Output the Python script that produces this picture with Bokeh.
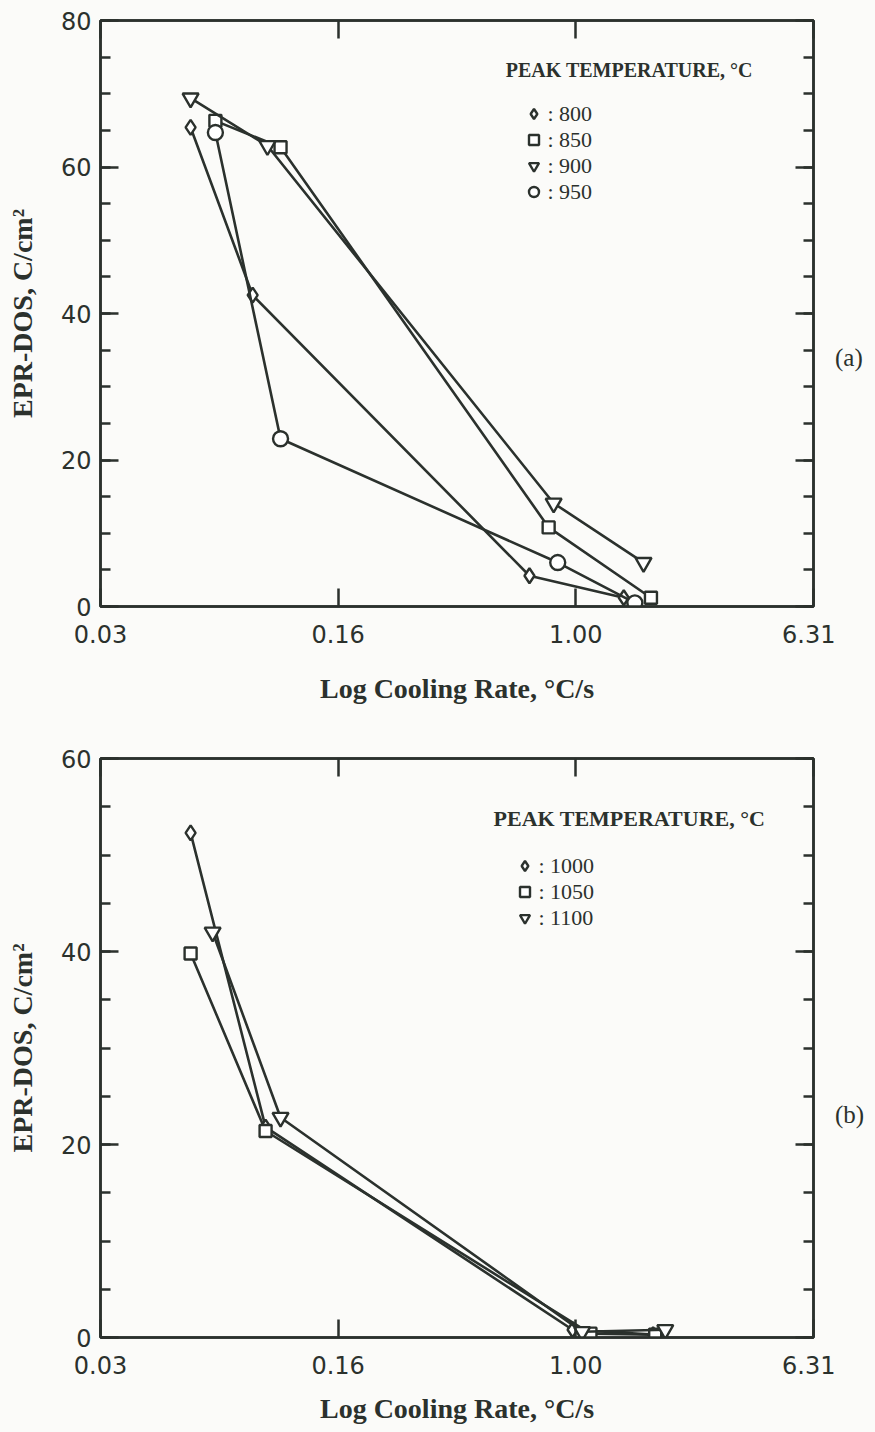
from bokeh.plotting import figure
from bokeh.models import (FixedTicker, LinearAxis, LogAxis, Label, Legend,
                          LegendItem, Range1d, Div)
from bokeh.layouts import column, row
from bokeh.embed import file_html
from bokeh.resources import INLINE

# ---------------- data ----------------
x_ticks = [10 ** -1.6, 10 ** -0.8, 1.0, 10 ** 0.8]
x_tick_labels = ["0.03", "0.16", "1.00", "6.31"]

# panel (a)
rate_800 = [0.0505, 0.0817, 0.698, 1.45]
dos_800 = [65.4, 42.5, 4.2, 1.2]
rate_850 = [0.0612, 0.1014, 0.810, 1.79]
dos_850 = [66.3, 62.7, 10.8, 1.2]
rate_900 = [0.0505, 0.0916, 0.842, 1.69]
dos_900 = [69.4, 62.9, 14.1, 6.0]
rate_950 = [0.0612, 0.1014, 0.869, 1.58]
dos_950 = [64.7, 22.9, 6.0, 0.5]

# panel (b)
rate_1000 = [0.0505, 0.0903, 0.975, 1.82]
dos_1000 = [52.3, 21.8, 0.8, 0.3]
rate_1050 = [0.0505, 0.0903, 1.12, 1.85]
dos_1050 = [39.8, 21.4, 0.4, 0.3]
rate_1100 = [0.0599, 0.1014, 1.05, 2.0]
dos_1100 = [42.0, 22.8, 0.6, 0.8]

y_ticks_a = [0, 20, 40, 60, 80]
y_ticks_b = [0, 20, 40, 60]

legend_title = "PEAK TEMPERATURE, °C"
x_label = "Log Cooling Rate, °C/s"
y_label = "EPR-DOS, C/cm²"

INK = "#2b312d"
PAPER = "#fbfbf9"
SERIF = "Liberation Serif"
SANS = "DejaVu Sans"


def style_axis(ax, labels=True):
    ax.axis_line_color = INK
    ax.axis_line_width = 2.5
    ax.major_tick_line_color = INK
    ax.major_tick_line_width = 2.5
    ax.minor_tick_line_color = INK
    ax.minor_tick_line_width = 2.5
    ax.major_tick_out = 0
    ax.minor_tick_out = 0
    ax.major_tick_in = 18
    ax.minor_tick_in = 10
    ax.major_label_text_font = SANS
    if labels:
        ax.major_label_text_font_size = "24px"
        ax.major_label_text_color = INK
    else:
        ax.major_label_text_font_size = "1px"
        ax.major_label_text_color = None
        ax.major_label_standoff = 0
    ax.axis_label_text_font = SERIF
    ax.axis_label_text_font_style = "bold"
    ax.axis_label_text_font_size = "28px"
    ax.axis_label_text_color = INK


def make_panel(series, ymax, yticks, height, top, bottom, names, legend_loc,
               title_pos, title_size, xlab_standoff):
    p = figure(width=835, height=height, x_axis_type="log",
               x_range=Range1d(x_ticks[0], x_ticks[-1]),
               y_range=Range1d(0, ymax),
               output_backend="svg", toolbar_location=None,
               min_border_left=100, min_border_right=22,
               min_border_top=top, min_border_bottom=bottom)
    p.grid.visible = False
    p.background_fill_color = PAPER
    p.border_fill_color = PAPER
    p.outline_line_color = INK
    p.outline_line_width = 2.5

    xt = FixedTicker(ticks=x_ticks, minor_ticks=[])
    yt = FixedTicker(ticks=yticks, minor_ticks=list(range(0, ymax + 1, 5)))

    xa = p.xaxis[0]
    xa.ticker = xt
    xa.major_label_overrides = dict(zip(x_ticks, x_tick_labels))
    style_axis(xa)
    xa.major_label_standoff = 18
    xa.axis_label = x_label
    xa.axis_label_standoff = xlab_standoff

    ya = p.yaxis[0]
    ya.ticker = yt
    style_axis(ya)
    ya.major_label_standoff = 9
    ya.axis_label = y_label
    ya.axis_label_standoff = 20

    top_ax = LogAxis(ticker=xt)
    style_axis(top_ax, labels=False)
    p.add_layout(top_ax, "above")
    right_ax = LinearAxis(ticker=yt)
    style_axis(right_ax, labels=False)
    p.add_layout(right_ax, "right")

    markers = ["diamond", "square", "inverted_triangle", "circle"]
    sizes = [15, 12, 16, 15]
    items = []
    for (xs, ys), mk, sz, nm in zip(series, markers, sizes, names):
        p.line(xs, ys, line_color=INK, line_width=2.6)
        r = p.scatter(xs, ys, marker=mk, size=sz, line_color=INK,
                      line_width=2.4, fill_color="white")
        items.append(LegendItem(label=": " + nm, renderers=[r]))

    leg = Legend(items=items, location=legend_loc, glyph_width=25,
                 glyph_height=25, label_height=25,
                 spacing=0, padding=0, margin=0, label_standoff=2,
                 border_line_color=None, background_fill_alpha=0,
                 label_text_font=SERIF, label_text_font_size="22px",
                 label_text_color=INK)
    p.add_layout(leg)

    p.add_layout(Label(x=title_pos[0], y=title_pos[1], text=legend_title,
                       text_font=SERIF, text_font_style="bold",
                       text_font_size=title_size, text_color=INK,
                       text_align="left", text_baseline="middle"))
    return p


def tag_div(tag, height, top):
    html = ('<div style="margin-top:%dpx;font-family:\'Liberation Serif\';'
            'font-size:25px;line-height:28px;color:%s;">%s</div>'
            % (top, INK, tag))
    return Div(text=html, width=40, height=height, margin=0,
               styles={"background-color": PAPER})


pa = make_panel([(rate_800, dos_800), (rate_850, dos_850),
                 (rate_900, dos_900), (rate_950, dos_950)],
                80, y_ticks_a, 720, 20, 114, ["800", "850", "900", "950"],
                (420.5, 401.5), (10 ** -0.236, 73.2), "20px", 27)
pb = make_panel([(rate_1000, dos_1000), (rate_1050, dos_1050),
                 (rate_1100, dos_1100)],
                60, y_ticks_b, 712, 38, 95, ["1000", "1050", "1100"],
                (411.5, 406.5), (10 ** -0.277, 53.8), "22px", 16)

layout = column(row(pa, tag_div("(a)", 720, 344), spacing=0),
                row(pb, tag_div("(b)", 712, 381), spacing=0),
                spacing=0)
layout.styles = {"background-color": PAPER}
open("out.html", "w").write(file_html(layout, INLINE))
